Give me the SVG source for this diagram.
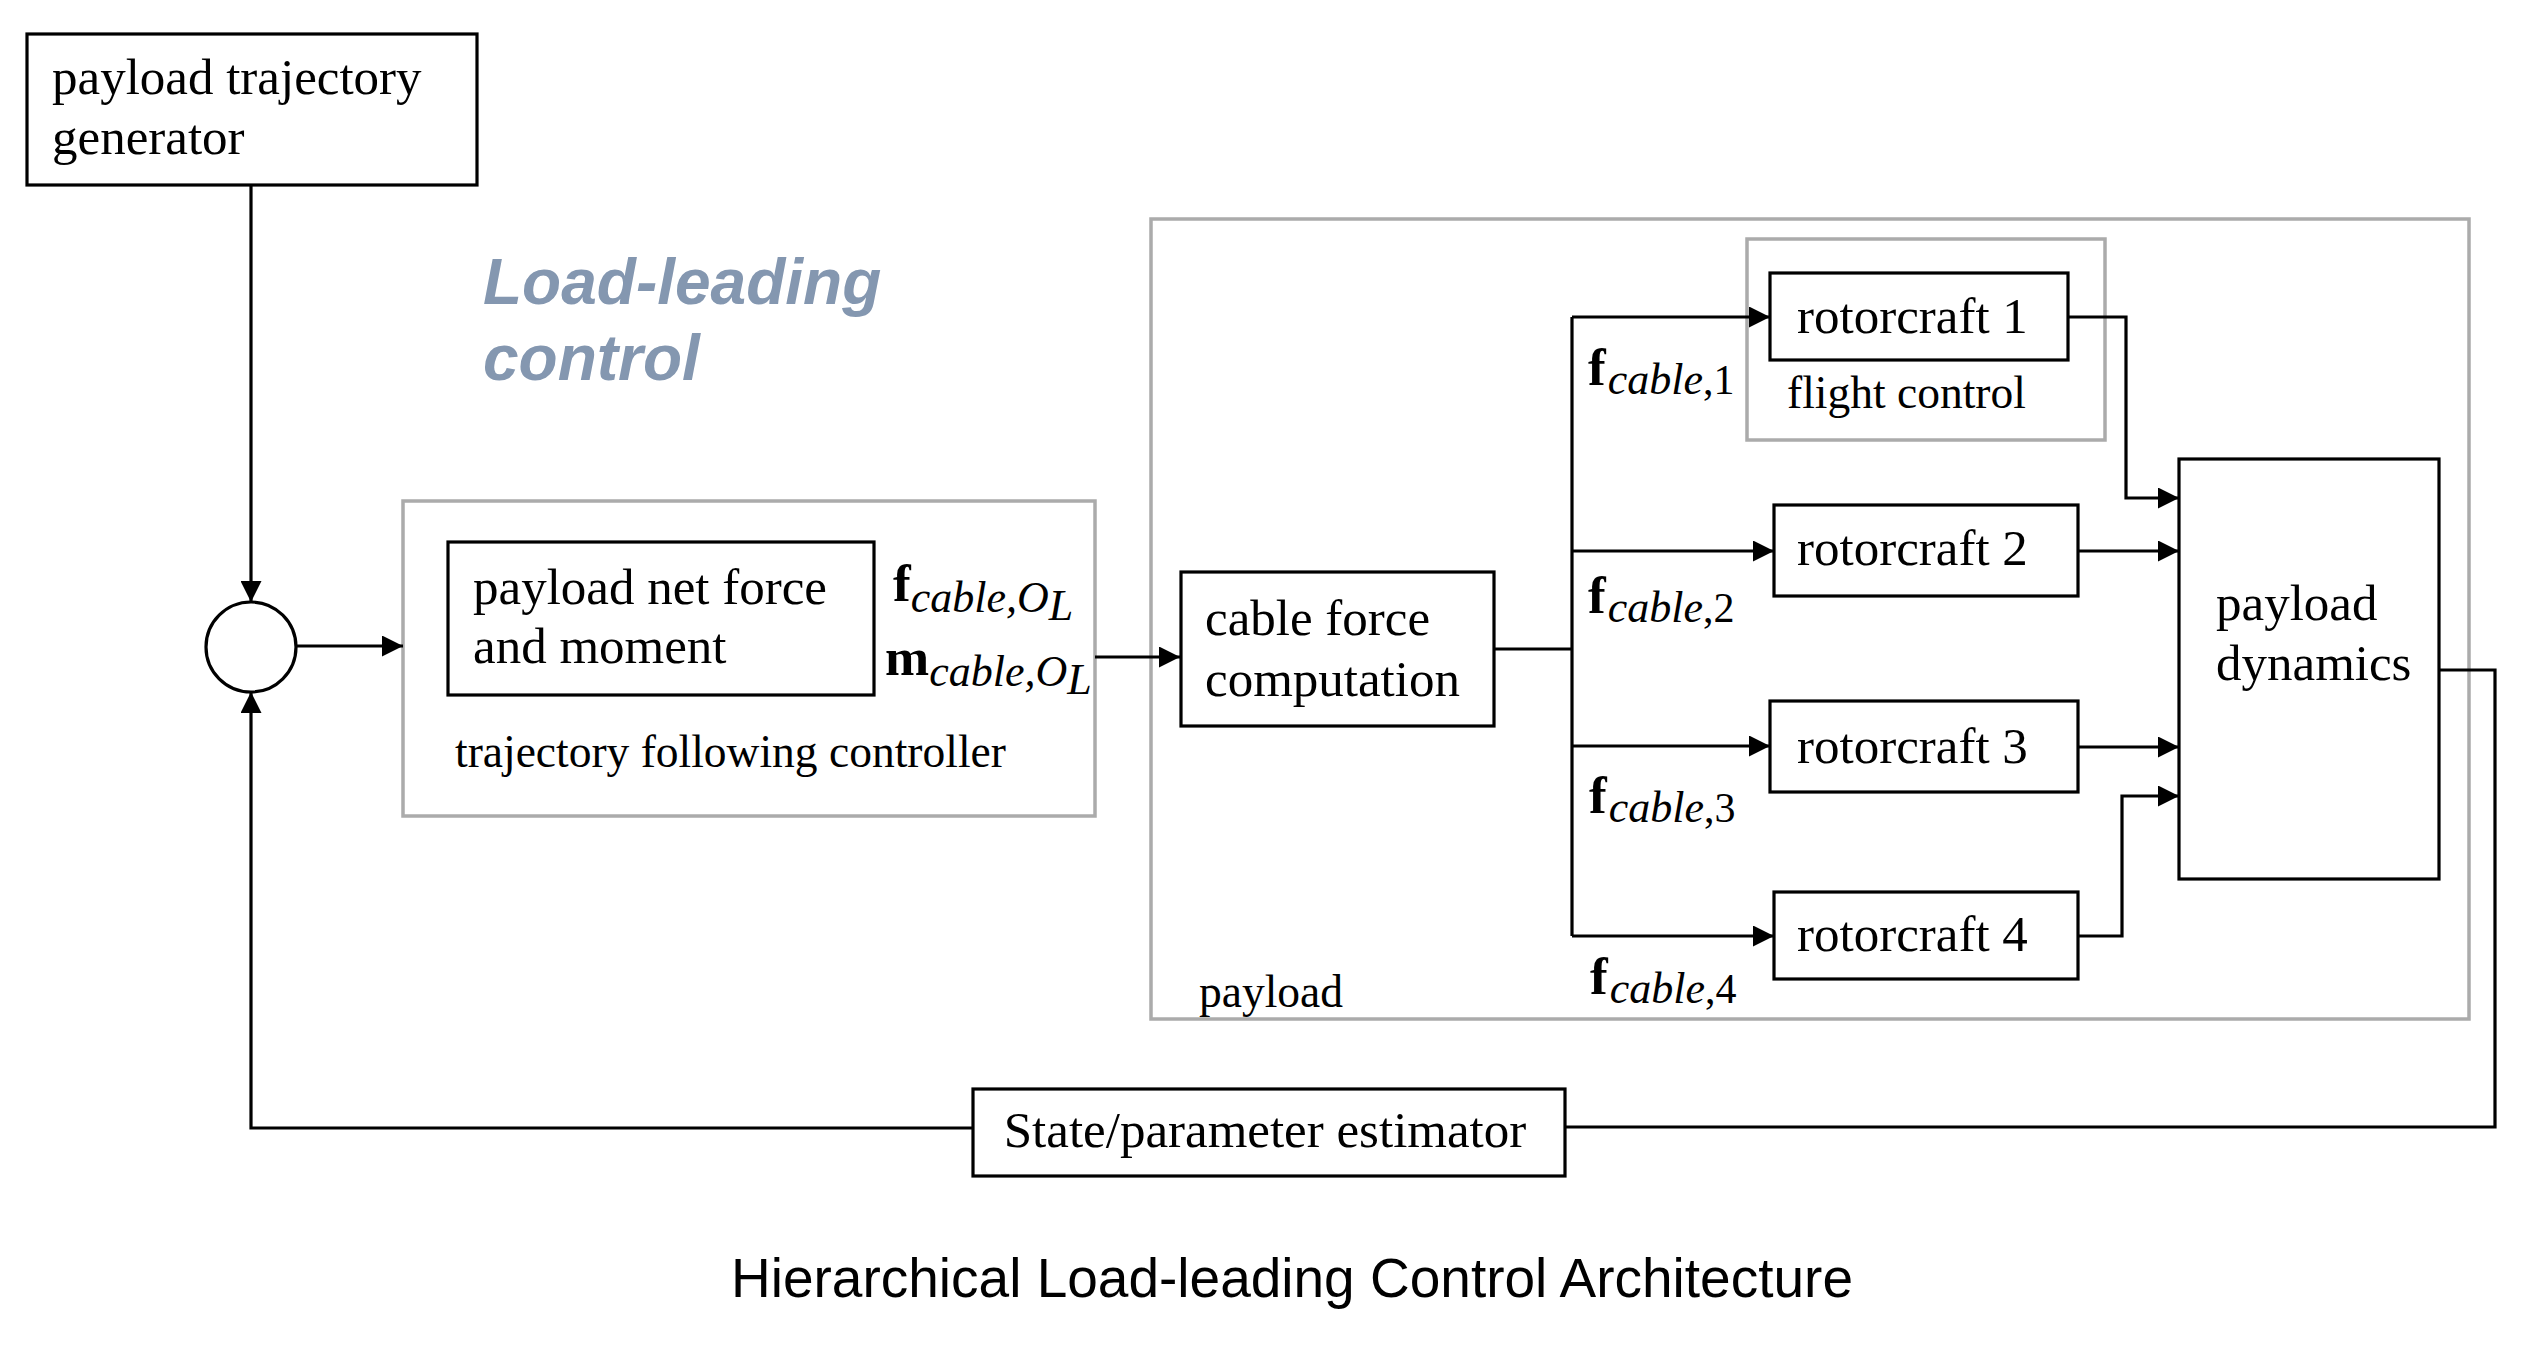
<svg xmlns="http://www.w3.org/2000/svg" width="2525" height="1347" viewBox="0 0 2525 1347">
<defs>
<style>
.blk{fill:#fff;stroke:#000;stroke-width:3.2}
.gry{fill:none;stroke:#ababab;stroke-width:3.5}
.t{font-family:"Liberation Serif","Times New Roman",serif;font-size:51px;fill:#000}
.ts{font-family:"Liberation Serif","Times New Roman",serif;font-size:45.5px;fill:#000}
.m{font-family:"Liberation Serif","Times New Roman",serif;fill:#000}
.bf{font-weight:bold;font-size:53px}
.it{font-style:italic;font-size:44px}
.up{font-style:normal;font-size:42px}
.ll{font-family:"Liberation Sans",Arial,sans-serif;font-weight:bold;font-style:italic;font-size:64px;fill:#8497b0}
.title{font-family:"Liberation Sans",Arial,sans-serif;font-size:55px;fill:#000}
.c{fill:none;stroke:#000;stroke-width:3.2}
</style>
<marker id="ah" markerUnits="userSpaceOnUse" markerWidth="21" markerHeight="21" refX="20" refY="10" orient="auto" viewBox="0 0 20 20">
<path d="M0,0 L20,10 L0,20 z" fill="#000"/>
</marker>
</defs>
<rect width="2525" height="1347" fill="#fff"/>

<g id="containers">
<rect id="payload-group" class="gry" x="1151" y="219" width="1318" height="800"/>
<rect id="controller-group" class="gry" x="403" y="501" width="692" height="315"/>
<rect id="flight-control-group" class="gry" x="1747" y="239" width="358" height="201"/>
</g>

<g id="connectors">
<path class="c" d="M251,185 V602" marker-end="url(#ah)"/>
<path class="c" d="M296,646 H403" marker-end="url(#ah)"/>
<path class="c" d="M1095,657 H1180" marker-end="url(#ah)"/>
<path class="c" d="M1494,649 H1572"/>
<path class="c" d="M1572,317 V936"/>
<path class="c" d="M1572,317 H1770" marker-end="url(#ah)"/>
<path class="c" d="M1572,551 H1774" marker-end="url(#ah)"/>
<path class="c" d="M1572,746 H1770" marker-end="url(#ah)"/>
<path class="c" d="M1572,936 H1774" marker-end="url(#ah)"/>
<path class="c" d="M2068,317 H2126 V498 H2179" marker-end="url(#ah)"/>
<path class="c" d="M2078,551 H2179" marker-end="url(#ah)"/>
<path class="c" d="M2078,747 H2179" marker-end="url(#ah)"/>
<path class="c" d="M2078,936 H2122 V796 H2179" marker-end="url(#ah)"/>
<path class="c" d="M2439,670 H2495 V1127 H1565"/>
<path class="c" d="M973,1128 H251 V692" marker-end="url(#ah)"/>
</g>

<g id="generator">
<rect class="blk" x="27" y="34" width="450" height="151"/>
<text class="t" x="52" y="94">payload trajectory</text>
<text class="t" x="52" y="154">generator</text>
</g>

<g id="label-load-leading">
<text class="ll" x="483" y="304">Load-leading</text>
<text class="ll" x="483" y="380">control</text>
</g>

<g id="sum">
<circle cx="251" cy="647" r="45" fill="#fff" stroke="#000" stroke-width="3.2"/>
</g>

<g id="controller">
<rect class="blk" x="448" y="542" width="426" height="153"/>
<text class="t" x="473" y="604">payload net force</text>
<text class="t" x="473" y="663">and moment</text>
<text class="ts" x="455" y="767">trajectory following controller</text>
</g>

<g id="label-f-OL">
<text class="m" x="893" y="601"><tspan class="bf">f</tspan><tspan class="it" dy="11" font-size="40">cable,O</tspan><tspan class="it" font-size="28" dy="8">L</tspan></text>
<text class="m" x="885" y="675"><tspan class="bf">m</tspan><tspan class="it" dy="11" font-size="40">cable,O</tspan><tspan class="it" font-size="28" dy="8">L</tspan></text>
</g>

<g id="cable-force">
<rect class="blk" x="1181" y="572" width="313" height="154"/>
<text class="t" x="1205" y="635">cable force</text>
<text class="t" x="1205" y="696">computation</text>
</g>

<g id="rotorcraft1">
<rect class="blk" x="1770" y="273" width="298" height="87"/>
<text class="t" x="1797" y="333">rotorcraft 1</text>
</g>
<text class="ts" x="1787" y="408">flight control</text>

<g id="rotorcraft2">
<rect class="blk" x="1774" y="505" width="304" height="91"/>
<text class="t" x="1797" y="565">rotorcraft 2</text>
</g>

<g id="rotorcraft3">
<rect class="blk" x="1770" y="701" width="308" height="91"/>
<text class="t" x="1797" y="763">rotorcraft 3</text>
</g>

<g id="rotorcraft4">
<rect class="blk" x="1774" y="892" width="304" height="87"/>
<text class="t" x="1797" y="951">rotorcraft 4</text>
</g>

<g id="cable-labels">
<text class="m" x="1588" y="385"><tspan class="bf">f</tspan><tspan class="it" dx="2" dy="9">cable</tspan><tspan class="up">,1</tspan></text>
<text class="m" x="1588" y="613"><tspan class="bf">f</tspan><tspan class="it" dx="2" dy="9">cable</tspan><tspan class="up">,2</tspan></text>
<text class="m" x="1589" y="813"><tspan class="bf">f</tspan><tspan class="it" dx="2" dy="9">cable</tspan><tspan class="up">,3</tspan></text>
<text class="m" x="1590" y="994"><tspan class="bf">f</tspan><tspan class="it" dx="2" dy="9">cable</tspan><tspan class="up">,4</tspan></text>
</g>

<g id="dynamics">
<rect class="blk" x="2179" y="459" width="260" height="420"/>
<text class="t" x="2216" y="620">payload</text>
<text class="t" x="2216" y="680">dynamics</text>
</g>

<text class="ts" x="1199" y="1007">payload</text>

<g id="estimator">
<rect class="blk" x="973" y="1089" width="592" height="87"/>
<text class="t" x="1265" y="1147" text-anchor="middle">State/parameter estimator</text>
</g>

<text class="title" x="1292" y="1297" text-anchor="middle">Hierarchical Load-leading Control Architecture</text>
</svg>
